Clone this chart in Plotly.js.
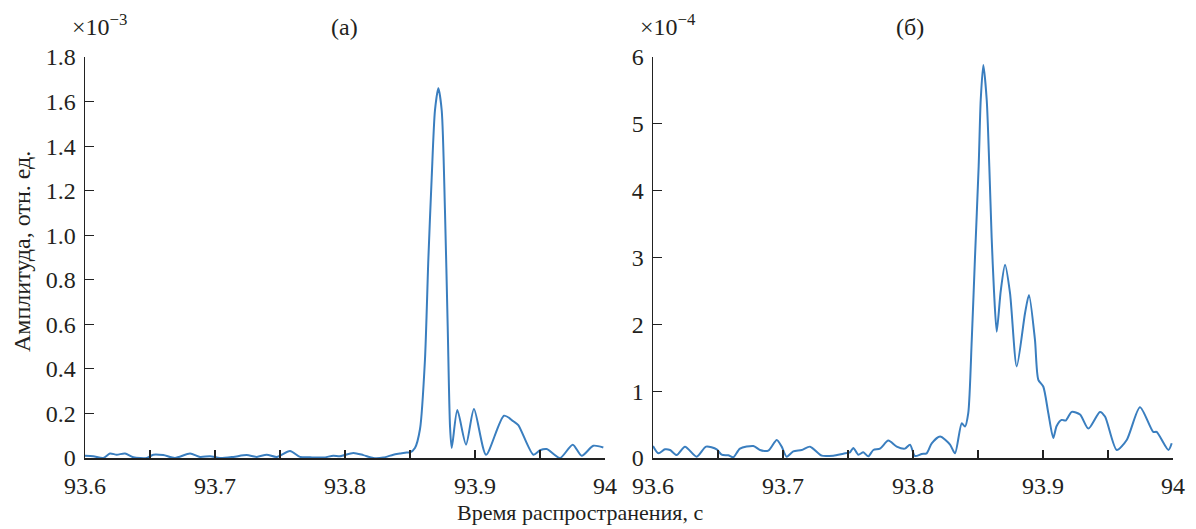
<!DOCTYPE html>
<html>
<head>
<meta charset="utf-8">
<script src="https://cdn.plot.ly/plotly-3.0.1.min.js"></script>
<style>html,body{margin:0;padding:0;background:#fff;}#chart{width:1196px;height:529px;}</style>
</head>
<body>
<div id="chart"></div>
<script>
// Panel (a): amplitude in units of 1e-3
var timeA = [93.6,93.6064,93.6141,93.6192,93.6244,93.6308,93.6372,93.6475,93.6525,93.6602,93.6692,93.6808,93.6885,93.6962,93.7038,93.7141,93.7244,93.7321,93.7398,93.7475,93.7577,93.7654,93.7731,93.7833,93.791,93.7962,93.8064,93.8141,93.8218,93.8295,93.8372,93.8423,93.8475,93.85,93.8538,93.8577,93.8615,93.8641,93.8667,93.8692,93.8718,93.8744,93.8769,93.879,93.8808,93.8821,93.8864,93.8931,93.8992,93.9085,93.9223,93.9295,93.9333,93.9449,93.95,93.9552,93.9654,93.9752,93.9821,93.991,93.9987];
var ampA = [0.01,0.008,0.0,0.02,0.015,0.02,0.003,0.0,0.015,0.013,0.0,0.02,0.005,0.008,0.0,0.005,0.013,0.005,0.015,0.005,0.031,0.005,0.003,0.002,0.01,0.008,0.023,0.013,0.0,0.002,0.015,0.02,0.025,0.025,0.045,0.13,0.44,0.89,1.26,1.56,1.66,1.56,1.11,0.59,0.14,0.045,0.215,0.06,0.22,0.015,0.19,0.165,0.148,0.015,0.035,0.04,0.0,0.06,0.01,0.055,0.047];

// Panel (б): amplitude in units of 1e-4
var timeB = [93.6,93.6041,93.6092,93.6131,93.6182,93.6246,93.6336,93.6408,93.649,93.6528,93.6579,93.6618,93.6669,93.6772,93.6823,93.6887,93.6952,93.699,93.7028,93.7079,93.7144,93.7208,93.7298,93.7387,93.7464,93.7515,93.7541,93.7579,93.7618,93.7656,93.7695,93.7746,93.781,93.7875,93.7938,93.7977,93.8015,93.8067,93.8105,93.8144,93.8208,93.8285,93.8323,93.8375,93.84,93.8425,93.8452,93.8477,93.8505,93.8521,93.8541,93.8567,93.8587,93.8605,93.8623,93.8644,93.8675,93.8708,93.8746,93.8798,93.8862,93.8892,93.8938,93.8964,93.9002,93.9041,93.9079,93.9105,93.9144,93.9175,93.9221,93.9285,93.9349,93.9438,93.9477,93.9567,93.9644,93.9746,93.9848,93.9874,93.9965,93.999];
var ampB = [0.18,0.07,0.13,0.12,0.045,0.17,0.02,0.17,0.13,0.05,0.04,0.01,0.14,0.18,0.12,0.11,0.27,0.17,0.02,0.10,0.12,0.17,0.035,0.035,0.065,0.085,0.15,0.05,0.085,0.025,0.12,0.14,0.26,0.17,0.14,0.2,0.03,0.06,0.07,0.22,0.32,0.2,0.07,0.52,0.47,0.67,1.77,3.01,4.36,5.36,5.88,5.36,4.36,3.3,2.5,1.89,2.5,2.89,2.47,1.37,2.17,2.44,1.77,1.17,1.07,0.67,0.30,0.48,0.57,0.56,0.69,0.65,0.44,0.69,0.62,0.12,0.27,0.76,0.39,0.39,0.12,0.22];

var xTickVals = [93.6,93.65,93.7,93.75,93.8,93.85,93.9,93.95,94];
var xTickText = ['93.6','','93.7','','93.8','','93.9','','94'];
var yTickValsA = [0,0.2,0.4,0.6,0.8,1.0,1.2,1.4,1.6,1.8];
var yTickTextA = ['0','0.2','0.4','0.6','0.8','1.0','1.2','1.4','1.6','1.8'];
var yTickValsB = [0,1,2,3,4,5,6];
var yTickTextB = ['0','1','2','3','4','5','6'];

var W = 1196, H = 529;
var FONT = "'Liberation Serif', 'Times New Roman', serif";
var TXT = '#231f20';
var LINE = '#3a7ebf';

var traces = [
  {x: timeA, y: ampA, xaxis: 'x', yaxis: 'y', mode: 'lines', line: {color: LINE, width: 2, shape: 'spline', smoothing: 0.7}, hoverinfo: 'x+y'},
  {x: timeB, y: ampB, xaxis: 'x2', yaxis: 'y2', mode: 'lines', line: {color: LINE, width: 2, shape: 'spline', smoothing: 0.7}, hoverinfo: 'x+y'}
];

var yBot = (H - 458) / H, yTop = (H - 57) / H;
function xax(d0, d1, anchor) {
  return {
    domain: [d0 / W, d1 / W], anchor: anchor, range: [93.6, 94],
    tickmode: 'array', tickvals: xTickVals, ticktext: xTickText,
    ticks: 'inside', ticklen: 8, tickwidth: 1.2, tickcolor: '#222',
    showline: true, linecolor: '#222', linewidth: 1.5, showgrid: false, zeroline: false,
    ticklabelstandoff: 6,
    tickfont: {family: FONT, size: 24, color: TXT}
  };
}
function yax(vals, text, top, anchor) {
  return {
    domain: [yBot, yTop], anchor: anchor, range: [0, top],
    tickmode: 'array', tickvals: vals, ticktext: text,
    ticks: 'inside', ticklen: 9, tickwidth: 1.2, tickcolor: '#222',
    showline: true, linecolor: '#222', linewidth: 1.5, showgrid: false, zeroline: false,
    ticklabelstandoff: 3,
    tickfont: {family: FONT, size: 24, color: TXT}
  };
}

var layout = {
  width: W, height: H, showlegend: false,
  margin: {l: 0, r: 0, t: 0, b: 0},
  paper_bgcolor: '#fff', plot_bgcolor: '#fff',
  font: {family: FONT, size: 24, color: TXT},
  xaxis: xax(85, 605, 'y'),
  yaxis: yax(yTickValsA, yTickTextA, 1.8, 'x'),
  xaxis2: xax(653, 1173, 'y2'),
  yaxis2: yax(yTickValsB, yTickTextB, 6, 'x2'),
  annotations: [
    {xref: 'paper', yref: 'paper', x: 70 / W, y: (H - 25) / H, xanchor: 'left', yanchor: 'middle', showarrow: false,
     text: '×10<sup>−3</sup>', font: {family: FONT, size: 24, color: TXT}},
    {xref: 'paper', yref: 'paper', x: 638 / W, y: (H - 25) / H, xanchor: 'left', yanchor: 'middle', showarrow: false,
     text: '×10<sup>−4</sup>', font: {family: FONT, size: 24, color: TXT}},
    {xref: 'paper', yref: 'paper', x: 345 / W, y: (H - 27) / H, xanchor: 'center', yanchor: 'middle', showarrow: false,
     text: '(a)', font: {family: FONT, size: 24, color: TXT}},
    {xref: 'paper', yref: 'paper', x: 910 / W, y: (H - 27) / H, xanchor: 'center', yanchor: 'middle', showarrow: false,
     text: '(б)', font: {family: FONT, size: 24, color: TXT}},
    {xref: 'paper', yref: 'paper', x: 22 / W, y: (H - 252) / H, xanchor: 'center', yanchor: 'middle', showarrow: false,
     textangle: -90, text: 'Амплитуда, отн. ед.', font: {family: FONT, size: 24, color: TXT}},
    {xref: 'paper', yref: 'paper', x: 580 / W, y: (H - 512) / H, xanchor: 'center', yanchor: 'middle', showarrow: false,
     text: 'Время распространения, с', font: {family: FONT, size: 22, color: TXT}}
  ]
};

Plotly.newPlot('chart', traces, layout, {displayModeBar: false, staticPlot: true});
</script>
</body>
</html>
